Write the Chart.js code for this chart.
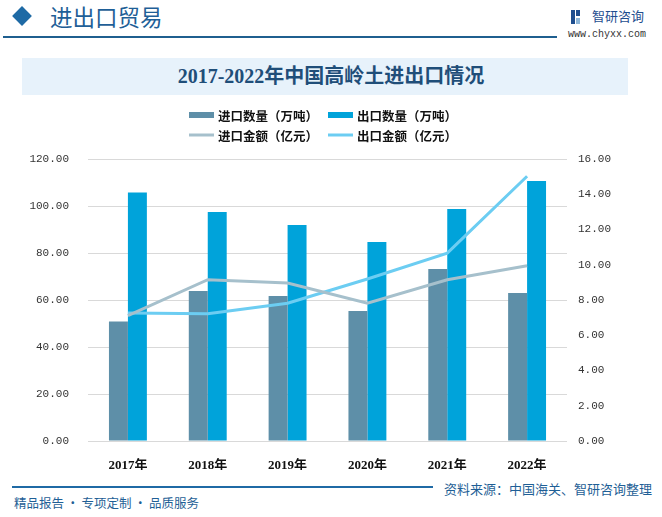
<!DOCTYPE html>
<html>
<head>
<meta charset="utf-8">
<script src="https://cdn.jsdelivr.net/npm/chart.js@4"></script>
<style>
  body { margin: 0; background: #fff; }
  #page { position: relative; width: 662px; height: 517px; overflow: hidden; background: #fff;
          font-family: "Noto Sans CJK SC", sans-serif; }
  .abs { position: absolute; white-space: nowrap; }
  #diamond { left: 15px; top: 9px; width: 14px; height: 14px; background: #1e6aa5; transform: rotate(45deg); }
  #head { left: 50px; top: 2px; font-size: 22.5px; line-height: 28px; color: #1f5f97; }
  #headLine { left: 3px; top: 36px; width: 554px; height: 2px; background: #1f5f8f; }
  #logoText { left: 592px; top: 7px; font-size: 13px; line-height: 18px; color: #1f4e8f; }
  #site { left: 568px; top: 29px; font-family: "Liberation Mono", monospace; font-size: 10px; line-height: 12px; color: #333; }
  #titleBox { left: 22px; top: 58px; width: 606px; height: 37px; background: #e7f2fb; }
  #title { left: 0; width: 662px; top: 62px; text-align: center; font-family: "Liberation Serif", "Noto Sans CJK SC", serif;
           font-weight: bold; font-size: 20px; line-height: 28px; color: #1f4e79; }
  #footLine { left: 12px; top: 486px; width: 421px; height: 2px; background: #1f6aa5; }
  #source { left: 444px; top: 480px; font-size: 13px; line-height: 18px; color: #1f5f96; }
  #slogan { left: 14px; top: 494px; font-size: 12.5px; line-height: 18px; color: #1f5f96; }
  #chartWrap { position: absolute; left: 0; top: 100px; width: 662px; height: 370px; }
</style>
</head>
<body>
<div id="page">
  <div class="abs" id="diamond"></div>
  <div class="abs" id="head">进出口贸易</div>
  <div class="abs" id="headLine"></div>
  <div class="abs" style="left:571px;top:10px;width:4px;height:14px;background:#1f4e8f"></div>
  <div class="abs" style="left:576px;top:10px;width:4px;height:6px;background:#1f4e8f"></div>
  <div class="abs" style="left:576px;top:18px;width:4px;height:6px;background:#8fb7d9"></div>
  <div class="abs" id="logoText">智研咨询</div>
  <div class="abs" id="site">www.chyxx.com</div>
  <div class="abs" id="titleBox"></div>
  <div class="abs" id="title">2017-2022年中国高岭土进出口情况</div>
  <div id="chartWrap"><canvas id="chart" width="662" height="370"></canvas></div>
  <div class="abs" id="footLine"></div>
  <div class="abs" id="source">资料来源：中国海关、智研咨询整理</div>
  <div class="abs" id="slogan">精品报告&#8201;·&#8201;专项定制&#8201;·&#8201;品质服务</div>
</div>
<script>
// 数据
const years = ['2017年', '2018年', '2019年', '2020年', '2021年', '2022年'];
const importQty = [50.8, 63.8, 61.7, 55.3, 73.2, 63.0];      // 万吨
const exportQty = [105.7, 97.4, 91.9, 84.7, 98.7, 110.6];    // 万吨
const importValue = [7.12, 9.15, 8.96, 7.82, 9.15, 9.94];    // 亿元
const exportValue = [7.26, 7.22, 7.82, 9.19, 10.66, 15.02];  // 亿元

const leftTicks = [0, 20, 40, 60, 80, 100, 120];
const rightTicks = [0, 2, 4, 6, 8, 10, 12, 14, 16];

// legend 2x2, drawn by hand
const legendPlugin = {
  id: 'gridLegend',
  afterDraw(chart) {
    const ctx = chart.ctx;
    const ds = chart.data.datasets;
    const cols = [189, 328];
    const rows = [15, 35];
    ctx.save();
    ctx.font = 'bold 12.5px "Noto Sans CJK SC", sans-serif';
    ctx.textBaseline = 'middle';
    ds.forEach((d, i) => {
      const x = cols[i % 2];
      const y = rows[Math.floor(i / 2)];
      if (d.type === 'line') {
        ctx.strokeStyle = d.borderColor;
        ctx.lineWidth = 3;
        ctx.beginPath();
        ctx.moveTo(x, y);
        ctx.lineTo(x + 25, y);
        ctx.stroke();
      } else {
        ctx.fillStyle = d.backgroundColor;
        ctx.fillRect(x, y - 3, 25, 6);
      }
      ctx.fillStyle = '#111';
      ctx.fillText(d.label, x + 29, y + 1);
    });
    ctx.restore();
  }
};

const ctx = document.getElementById('chart').getContext('2d');
new Chart(ctx, {
  type: 'bar',
  data: {
    labels: years,
    datasets: [
      { label: '进口数量（万吨）', data: importQty, backgroundColor: '#5e8fa8', yAxisID: 'y', order: 1,
        categoryPercentage: 0.475, barPercentage: 1 },
      { label: '出口数量（万吨）', data: exportQty, backgroundColor: '#00a3da', yAxisID: 'y', order: 1,
        categoryPercentage: 0.475, barPercentage: 1 },
      { type: 'line', label: '进口金额（亿元）', data: importValue, borderColor: '#a6c0cc', backgroundColor: '#a6c0cc',
        borderWidth: 3, pointRadius: 0, tension: 0, yAxisID: 'y1', order: 0 },
      { type: 'line', label: '出口金额（亿元）', data: exportValue, borderColor: '#6ccdf2', backgroundColor: '#6ccdf2',
        borderWidth: 3, pointRadius: 0, tension: 0, yAxisID: 'y1', order: 0 }
    ]
  },
  options: {
    responsive: false,
    animation: false,
    layout: { padding: { top: 59, left: 0, right: 0, bottom: 0 } },
    plugins: { legend: { display: false }, tooltip: { enabled: false } },
    scales: {
      x: {
        grid: { display: false },
        border: { display: false },
        ticks: { color: '#111', padding: 9, font: { family: '"Liberation Serif", "Noto Sans CJK SC", serif', size: 13, weight: 'bold' } },
        afterFit(s) { s.height = 29; }
      },
      y: {
        position: 'left',
        min: 0, max: 120,
        afterBuildTicks(s) { s.ticks = leftTicks.map(v => ({ value: v })); },
        ticks: { callback: v => v.toFixed(2), color: '#333', padding: 19,
                 font: { family: '"Liberation Mono", monospace', size: 11 } },
        grid: { color: '#d9d9d9', lineWidth: 1, drawTicks: false },
        border: { display: false },
        afterFit(s) { s.width = 88; }
      },
      y1: {
        position: 'right',
        min: 0, max: 16,
        afterBuildTicks(s) { s.ticks = rightTicks.map(v => ({ value: v })); },
        ticks: { callback: v => v.toFixed(2), color: '#333', padding: 11,
                 font: { family: '"Liberation Mono", monospace', size: 11 } },
        grid: { drawOnChartArea: false, drawTicks: false },
        border: { display: false },
        afterFit(s) { s.width = 95; }
      }
    }
  },
  plugins: [legendPlugin]
});
</script>
</body>
</html>
